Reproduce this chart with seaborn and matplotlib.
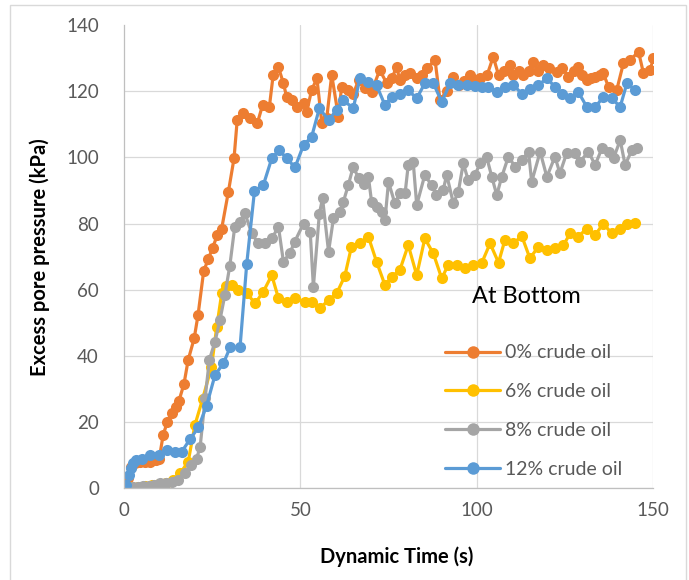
import matplotlib
matplotlib.use("Agg")
import matplotlib.pyplot as plt
import seaborn as sns
import pandas as pd
from matplotlib.patches import Rectangle

# Excess pore pressure at the bottom sensor, per crude-oil content
t_0 = [0, 1, 2, 3, 4.5, 6, 7.5, 9, 10, 11.1, 12.3, 13.5, 14.7, 15.6, 17.0, 18.2, 19.9, 21.0,
       22.6, 23.9, 25.1, 26.5, 27.7, 29.6, 31.2, 32.1, 33.8, 35.7, 37.8, 39.3, 41.2, 42.3,
       43.8, 45.2, 46.1, 47.6, 49.0, 50.9, 51.8, 53.2, 54.7, 56.1, 57.5, 58.9, 60.8, 61.7,
       63.6, 65.0, 66.5, 68.3, 70.2, 72.5, 74.5, 76.0, 77.3, 78.2, 79.6, 81.1, 83.0, 84.5,
       85.8, 88.2, 89.6, 91.5, 93.4, 95.0, 96.5, 98.1, 99.5, 101.0, 103.0, 104.7, 106.2,
       107.8, 109.5, 110.4, 112.0, 113.2, 114.8, 116.1, 117.5, 118.9, 120.5, 122.7, 124.3,
       126.0, 127.5, 128.8, 130.0, 131.2, 132.5, 133.6, 135.0, 135.9, 137.4, 139.7, 141.6,
       143.5, 145.9, 147.3, 149.2, 150.1]
p_0 = [0, 3, 6.5, 7.5, 8, 8, 8, 8.5, 9, 16.1, 20.1, 22.7, 24.7, 26.5, 31.5, 38.8, 45.3, 52.4,
       65.7, 69.2, 72.7, 76.5, 78.5, 89.6, 99.7, 111.3, 113.5, 111.8, 110.3, 115.8, 115.1, 124.9,
       127.2, 122.4, 118.3, 117.3, 115.3, 116.3, 113.8, 120.3, 123.9, 110.3, 112.0, 124.9, 112.3, 121.3,
       120.3, 119.0, 123.4, 121.0, 119.8, 126.4, 122.4, 124.0, 127.4, 123.4, 125.0, 125.4, 123.9, 125.0,
       126.9, 129.4, 117.3, 120.0, 124.4, 122.0, 123.0, 124.9, 123.0, 123.9, 125.0, 130.4, 124.9,
       126.0, 127.9, 124.9, 126.0, 124.9, 126.0, 128.9, 126.0, 127.9, 127.0, 125.9, 127.0,
       124.4, 126.0, 127.4, 125.0, 123.4, 124.0, 124.4, 125.0, 125.4, 121.3, 120.3, 128.4,
       129.4, 131.9, 125.4, 126.4, 129.9]

t_6 = [0, 2, 4, 6, 8, 10, 12, 14, 15.9, 18.2, 20.1, 22.3, 24.8, 26.3, 27.7, 29.0, 30.5, 32.4,
       34.8, 37.2, 39.5, 41.9, 43.8, 46.1, 48.5, 51.3, 53.2, 55.6, 58.0, 60.3, 62.6, 64.5,
       66.9, 69.3, 71.6, 74.0, 75.9, 78.2, 80.6, 83.0, 85.3, 87.7, 90.1, 91.9, 94.3, 96.7,
       99.1, 101.4, 103.8, 106.2, 108.0, 110.4, 112.8, 115.1, 117.5, 119.9, 122.2, 124.6,
       126.5, 128.8, 131.2, 133.6, 135.9, 138.3, 140.7, 142.6, 144.9]
p_6 = [0, 0.3, 0.5, 0.8, 1, 1.2, 1.5, 2.5, 4.5, 8, 19.1, 27, 36.7, 48.8, 58.9, 61, 61.4, 59.9,
       58.9, 55.9, 59.4, 64.4, 57.4, 56.4, 57.4, 56.4, 56.4, 54.4, 56.9, 58.9, 64.1, 73,
       74.2, 76, 68.5, 61.4, 63.9, 65.9, 73.5, 64.4, 75.5, 71, 63.4, 67.5, 67.5, 66.5,
       67.5, 68, 74, 68.2, 75, 74, 76.2, 69.5, 73, 72, 72.5, 73.5,
       77, 76, 78.5, 76.5, 80, 77, 78.5, 80, 80.2]

t_8 = [0, 1, 2.5, 4, 5.5, 7, 8.5, 10.2, 12, 13.5, 15.4, 17.3, 19.1, 20.6, 21.6, 23.0, 24.2,
       25.8, 27.2, 28.6, 30.0, 31.4, 32.9, 34.3, 36.2, 38.1, 40.0, 41.9, 43.8, 45.2, 47.0,
       48.4, 50.9, 52.8, 53.7, 55.4, 56.3, 58.0, 59.4, 61.3, 62.2, 63.6, 65.0, 66.5, 68.0,
       69.3, 70.2, 71.6, 73.1, 74.0, 75.0, 76.8, 78.2, 79.7, 80.6, 82.0, 83.0, 85.3, 87.2,
       88.6, 90.5, 91.5, 93.4, 94.8, 96.2, 97.6, 99.5, 101.0, 102.8, 104.3, 105.7, 107.1,
       109.0, 110.9, 112.8, 114.7, 115.6, 118.0, 119.9, 122.2, 123.6, 125.5, 127.9, 129.3,
       131.7, 133.6, 135.5, 137.4, 138.8, 140.7, 142.1, 144.0, 145.4]
p_8 = [0, 0, 0.3, 0.5, 0.7, 0.8, 1, 1.5, 1.7, 2, 2.5, 4.5, 7, 9, 12.6, 27.2, 38.8,
       44.3, 50.8, 58.4, 67.2, 79, 80.5, 83.1, 77, 74, 74, 75.5, 79, 68.5, 71,
       74.5, 80, 77.5, 60.9, 83, 87.6, 71.5, 81.6, 83.6, 86.6, 91.6, 97.2, 93.7, 92,
       94.1, 86.6, 85, 83.6, 81.1, 92.6, 86.1, 89.1, 89.1, 97.7, 98.7, 85.6, 94.7, 91.6,
       88.6, 90.1, 94.7, 86.1, 89.6, 98.2, 93.1, 94.7, 98.2, 100.2, 94.1, 88.6, 94.1,
       100.2, 97.2, 99.2, 101.7, 92.6, 101.7, 94.1, 100.2, 95.2, 101.2, 101.2, 98.7,
       101.7, 97.7, 102.7, 101.7, 99.7, 105.2, 97.7, 102.2, 102.7]

t_12 = [0, 0.7, 1.5, 2.0, 2.6, 3.5, 5.0, 7.4, 10.0, 12.3, 14.5, 16.4, 18.7, 21.1, 23.4, 25.8,
        28.2, 30.1, 32.9, 34.8, 37.0, 39.5, 41.9, 44.0, 46.1, 48.5, 50.9, 53.2, 55.4, 58.0,
        60.3, 62.2, 65.0, 66.9, 69.3, 71.6, 74.0, 75.9, 78.2, 80.6, 83.0, 85.3, 87.7, 90.1,
        92.5, 94.8, 97.2, 99.5, 101.4, 103.3, 105.7, 108.0, 110.4, 112.8, 115.1, 117.5,
        119.9, 122.2, 124.1, 126.5, 128.8, 131.2, 133.6, 135.9, 138.3, 140.7, 142.6, 144.9]
p_12 = [0, 1, 4, 6, 7.5, 8.5, 9, 10, 10, 11.6, 11.1, 11.1, 14.8, 18.4, 24.9, 34.2,
        37.8, 42.6, 42.6, 67.8, 89.9, 91.6, 99.7, 102.2, 99.7, 97, 103.7, 106.2, 114.8, 111.3,
        114.3, 117.3, 114.8, 123.9, 122.8, 121.8, 115.8, 118.3, 119.3, 120.3, 117.8, 122.4, 122.4, 116.8,
        122.4, 122, 121.8, 121.5, 121.3, 121.3, 119.8, 121.3, 121.8, 119.3, 120.8, 121.8,
        123.9, 121.3, 119.3, 117.8, 119.8, 115.3, 115.1, 118.3, 117.8, 115.3, 122.4, 120.3]

series_names = ["0% crude oil", "6% crude oil", "8% crude oil", "12% crude oil"]
series_colors = ["#ED7D31", "#FFC000", "#A5A5A5", "#5B9BD5"]
x_ticks = [0, 50, 100, 150]
y_ticks = [0, 20, 40, 60, 80, 100, 120, 140]

frames = []
for name, tt, pp in zip(series_names, [t_0, t_6, t_8, t_12], [p_0, p_6, p_8, p_12]):
    frames.append(pd.DataFrame({"time": tt, "pressure": pp, "series": name}))
df = pd.concat(frames, ignore_index=True)

sns.set_style("white")
plt.rcParams["font.family"] = ["Lato", "DejaVu Sans"]

W, H = 689, 580
fig = plt.figure(figsize=(W / 100, H / 100), dpi=100)
ax = fig.add_axes([124 / W, 1 - 488.3 / H, (653 - 124) / W, (488.3 - 25) / H])

sns.lineplot(data=df, x="time", y="pressure", hue="series", hue_order=series_names,
             palette=series_colors, marker="o", markersize=8, markeredgewidth=0,
             linewidth=2.3, estimator=None, sort=False, ax=ax, legend=True)

ax.set_xlim(0, 150)
ax.set_ylim(0, 140)
ax.set_xticks(x_ticks)
ax.set_yticks(y_ticks)
ax.grid(True, color="#D9D9D9", linewidth=0.9)
ax.set_axisbelow(True)
ax.yaxis.get_gridlines()[-1].set_visible(False)
ax.xaxis.get_gridlines()[0].set_visible(False)
for s in ["top", "right"]:
    ax.spines[s].set_visible(False)
for s in ["left", "bottom"]:
    ax.spines[s].set_color("#BFBFBF")
    ax.spines[s].set_linewidth(0.9)
ax.tick_params(axis="both", length=0, labelsize=13.5, colors="#595959")
ax.tick_params(axis="y", pad=18)
ax.tick_params(axis="x", pad=10)

ax.set_xlabel("Dynamic Time (s)", fontsize=14.5, fontweight="bold", color="black")
ax.set_ylabel("Excess pore pressure (kPa)", fontsize=14.5, fontweight="bold", color="black")
ax.xaxis.set_label_coords((397 - 124) / (653 - 124), -(546 - 488.3) / (488.3 - 25))
ax.yaxis.set_label_coords(-(124 - 50) / (653 - 124), 0.5)

ax.text(98.7, 58, "At Bottom", fontsize=17, color="black", va="center", ha="left")

handles, labels = ax.get_legend_handles_labels()
for h in handles:
    h.set_markersize(9)
ax.legend(handles, labels, loc="upper left", bbox_to_anchor=(445 / W, 1 - 344.5 / H),
          bbox_transform=fig.transFigure, frameon=False, fontsize=14,
          labelcolor="#595959", handlelength=2.85, handletextpad=0.25,
          labelspacing=1.12, borderpad=0, borderaxespad=0)

fig.patches.append(Rectangle((10 / W, -0.05), (686 - 10) / W, 1 - 5 / H + 0.05,
                             transform=fig.transFigure, fill=False,
                             edgecolor="#D9D9D9", linewidth=1))

fig.savefig("out.png", dpi=100)
